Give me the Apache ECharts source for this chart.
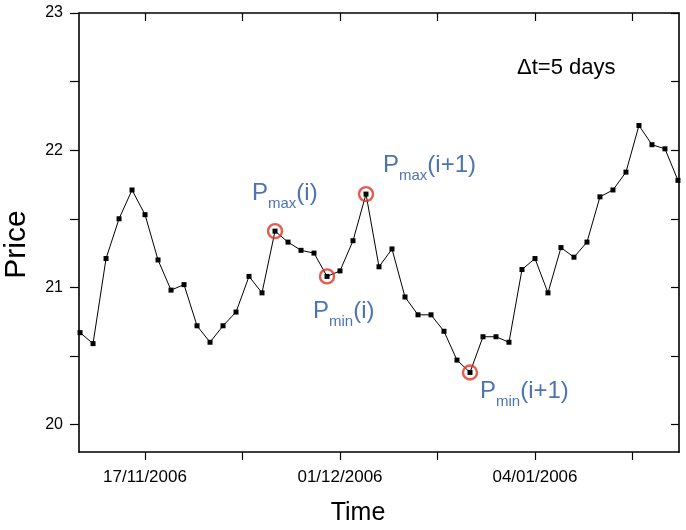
<!DOCTYPE html>
<html><head><meta charset="utf-8">
<script src="https://cdn.jsdelivr.net/npm/echarts@6/dist/echarts.min.js"></script>
<style>html,body{margin:0;padding:0;background:#fff}#c{width:686px;height:530px}</style>
</head><body><div id="c"></div>
<script>
// ---- data ----
const price = [20.67,20.59,21.21,21.50,21.71,21.53,21.20,20.98,21.02,20.72,20.60,20.72,20.82,21.08,20.96,21.41,21.33,21.27,21.25,21.08,21.12,21.34,21.68,21.15,21.28,20.93,20.80,20.80,20.68,20.47,20.38,20.64,20.64,20.60,21.13,21.21,20.96,21.29,21.22,21.33,21.66,21.71,21.84,22.18,22.04,22.01,21.78];
const xTickValues = [5, 12.5, 20, 27.5, 35, 42.5];
const xLabelValues = [5, 20, 35];
const xLabels = ['17/11/2006', '01/12/2006', '04/01/2006'];
const yTickValues = [20, 20.5, 21, 21.5, 22, 22.5, 23];
const yLabelValues = [20, 21, 22, 23];
const extremaIdx = [15, 19, 22, 30];
const extremaSub = ['max', 'min', 'max', 'min'];
const extremaArg = ['(i)', '(i)', '(i+1)', '(i+1)'];
const windowText = '\u0394t=5 days';

// ---- styling ----
const FONT = "'Liberation Sans', Arial, Helvetica, sans-serif";
const BLUE = '#22509f';
const RED = '#e2321f';
const labelOffsets = [[-23, -38], [-14, 35], [17, -29], [10, 19]];

const lineData = price.map((v, i) => [i, v]);
const extremaData = extremaIdx.map((idx, k) => ({
  value: [idx, price[idx]],
  label: {
    offset: labelOffsets[k],
    formatter: '{p|P}{s|' + extremaSub[k] + '}{p|' + extremaArg[k] + '}'
  }
}));

const chart = echarts.init(document.getElementById('c'), null, {renderer: 'canvas'});
const axisLineStyle = {color: '#000', width: 1.6};
chart.setOption({
  animation: false,
  backgroundColor: '#fff',
  grid: {left: 79, right: 7, top: 13, bottom: 78, containLabel: false, outerBoundsMode: 'none'},
  xAxis: [{
    type: 'value', min: -0.08, max: 46.08, position: 'bottom',
    axisLine: {show: true, onZero: false, lineStyle: axisLineStyle},
    axisTick: {show: true, inside: false, length: 8, lineStyle: {color: '#000', width: 1.2}, customValues: xTickValues},
    axisLabel: {show: true, margin: 17, fontSize: 17, fontFamily: FONT, color: '#000',
      customValues: xLabelValues,
      formatter: v => { const k = xLabelValues.indexOf(v); return k >= 0 ? xLabels[k] : ''; }},
    splitLine: {show: false},
    name: 'Time', nameLocation: 'middle', nameGap: 49,
    nameTextStyle: {fontSize: 25, fontFamily: FONT, color: '#000', padding: [0, 42, 0, 0]}
  }, {
    type: 'value', min: -0.08, max: 46.08, position: 'top',
    axisLine: {show: true, onZero: false, lineStyle: axisLineStyle},
    axisTick: {show: true, inside: true, length: 8, lineStyle: {color: '#000', width: 1.2}, customValues: xTickValues},
    axisLabel: {show: false}, splitLine: {show: false}
  }],
  yAxis: [{
    type: 'value', min: 19.8, max: 23, position: 'left',
    axisLine: {show: true, onZero: false, lineStyle: axisLineStyle},
    axisTick: {show: true, inside: false, length: 9, lineStyle: {color: '#000', width: 1.2}, customValues: yTickValues},
    axisLabel: {show: true, margin: 16, fontSize: 16, fontFamily: FONT, color: '#000',
      customValues: yLabelValues, formatter: v => String(Math.round(v))},
    splitLine: {show: false},
    name: 'Price', nameLocation: 'middle', nameGap: 47, nameRotate: 90,
    nameTextStyle: {fontSize: 30, fontFamily: FONT, color: '#000', padding: [0, 24, 0, 0]}
  }, {
    type: 'value', min: 19.8, max: 23, position: 'right',
    axisLine: {show: true, onZero: false, lineStyle: axisLineStyle},
    axisTick: {show: true, inside: true, length: 8, lineStyle: {color: '#000', width: 1.2}, customValues: yTickValues},
    axisLabel: {show: false}, splitLine: {show: false}
  }],
  series: [{
    type: 'line', data: lineData, xAxisIndex: 0, yAxisIndex: 0,
    symbol: 'rect', symbolSize: 5, showAllSymbol: true,
    lineStyle: {color: '#000', width: 1},
    itemStyle: {color: '#000', borderWidth: 0},
    silent: true, emphasis: {disabled: true}, z: 2
  }, {
    type: 'scatter', data: extremaData, xAxisIndex: 0, yAxisIndex: 0,
    symbol: 'circle', symbolSize: 14,
    itemStyle: {color: 'rgba(0,0,0,0)', borderColor: RED, borderWidth: 2.4},
    label: {
      show: true, position: 'inside', align: 'left', verticalAlign: 'middle',
      rich: {
        p: {fontSize: 24, lineHeight: 36, color: BLUE, fontFamily: FONT},
        s: {fontSize: 15, lineHeight: 15, verticalAlign: 'bottom', color: BLUE, fontFamily: FONT}
      }
    },
    silent: true, emphasis: {disabled: true}, z: 3
  }],
  graphic: [{
    type: 'text', left: 517, top: 57, silent: true,
    style: {text: windowText, fontSize: 22, fontFamily: FONT, fill: '#000'}
  }]
});
</script></body></html>
